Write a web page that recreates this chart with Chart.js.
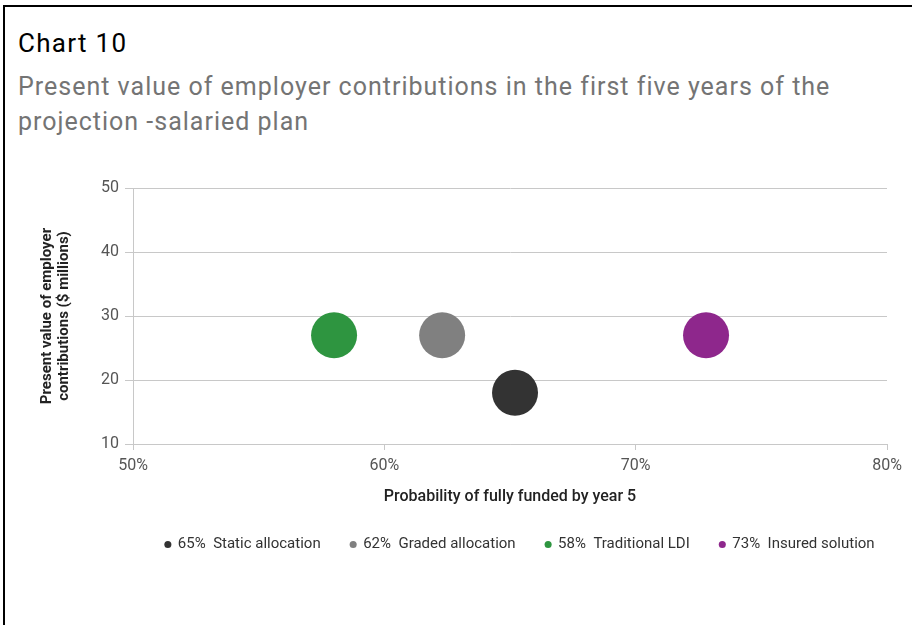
<!DOCTYPE html>
<html>
<head>
<meta charset="utf-8">
<script src="https://cdn.jsdelivr.net/npm/chart.js@4/dist/chart.umd.min.js"></script>
<style>
  html, body { margin: 0; padding: 0; background: #fff; }
  #page { position: relative; width: 912px; height: 625px; overflow: hidden; font-family: Roboto, 'Open Sans', sans-serif; }
  #frame { position: absolute; left: 3px; top: 5px; right: -10px; bottom: -10px; border-top: 2px solid #000; border-left: 2px solid #000; }
  #label { position: absolute; left: 18px; top: 28px; font-size: 26px; letter-spacing: 1.3px; color: #000; line-height: 30px; }
  #heading { position: absolute; left: 18px; top: 69px; font-size: 25px; letter-spacing: 1px; color: #747474; line-height: 35px; }
  #wrap { position: absolute; left: 0; top: 0; width: 912px; height: 625px; }
</style>
</head>
<body>
<div id="page">
  <div id="frame"></div>
  <div id="label">Chart 10</div>
  <div id="heading">Present value of employer contributions in the first five years of the<br>projection -salaried plan</div>
  <div id="wrap"><canvas id="chart"></canvas></div>
</div>
<script>
// Strategies, their funded probability (%) and PV of contributions ($m)
const strategies = ['Static allocation', 'Graded allocation', 'Traditional LDI', 'Insured solution'];
const probability = [65.2, 62.3, 58.0, 72.8];
const contributions = [18, 27, 27, 27];
const xTicks = [50, 60, 70, 80];
const yTicks = [10, 20, 30, 40, 50];

const colours = ['#333333', '#808080', '#2e9540', '#8e278c'];
const gridColour = '#c8c8c8';

const datasets = strategies.map((name, i) => ({
  label: `${Math.round(probability[i])}%  ${name}`,
  data: [{ x: probability[i], y: contributions[i] }],
  backgroundColor: colours[i],
  borderWidth: 0,
  pointRadius: 23,
  pointHoverRadius: 23,
}));

// legend sits a little right of centre, under the plot
const legendOffset = {
  id: 'legendOffset',
  afterLayout(chart) {
    chart.legend.left += 59;
    chart.legend.right += 59;
  }
};

new Chart(document.getElementById('chart'), {
  type: 'scatter',
  data: { datasets },
  plugins: [legendOffset],
  options: {
    responsive: true,
    maintainAspectRatio: false,
    animation: false,
    layout: { padding: { top: 188, left: 35, right: 25, bottom: 63 } },
    plugins: {
      tooltip: { enabled: false },
      legend: {
        position: 'bottom',
        labels: {
          usePointStyle: true,
          pointStyle: 'circle',
          boxWidth: 5,
          boxHeight: 5,
          padding: 30,
          color: '#333',
          font: { size: 15, family: 'Roboto' },
        }
      }
    },
    scales: {
      x: {
        type: 'linear',
        min: xTicks[0],
        max: xTicks[xTicks.length - 1],
        afterBuildTicks: s => { s.ticks = xTicks.map(v => ({ value: v })); },
        afterFit: s => { s.height = 63; },
        grid: { drawOnChartArea: false, color: gridColour, tickLength: 6 },
        border: { color: gridColour, width: 1 },
        ticks: { color: '#555', font: { size: 16, family: 'Roboto' }, padding: 6, callback: v => v + '%' },
        title: {
          display: true,
          text: 'Probability of fully funded by year 5',
          color: '#222',
          font: { size: 16, weight: '500', family: 'Roboto' },
          padding: { top: 4, bottom: 0 },
        }
      },
      y: {
        type: 'linear',
        min: yTicks[0],
        max: yTicks[yTicks.length - 1],
        afterBuildTicks: s => { s.ticks = yTicks.map(v => ({ value: v })); },
        afterFit: s => { s.width = 98; },
        grid: { color: gridColour, tickLength: 8 },
        border: { color: gridColour, width: 1 },
        ticks: { color: '#555', font: { size: 16, family: 'Roboto' }, padding: 6 },
        title: {
          display: true,
          text: ['Present value of employer', 'contributions ($ millions)'],
          color: '#222',
          font: { size: 15, weight: 'bold', family: 'Roboto', lineHeight: 1.1 },
          padding: { top: 4, bottom: 4 },
        }
      }
    }
  }
});
</script>
</body>
</html>
